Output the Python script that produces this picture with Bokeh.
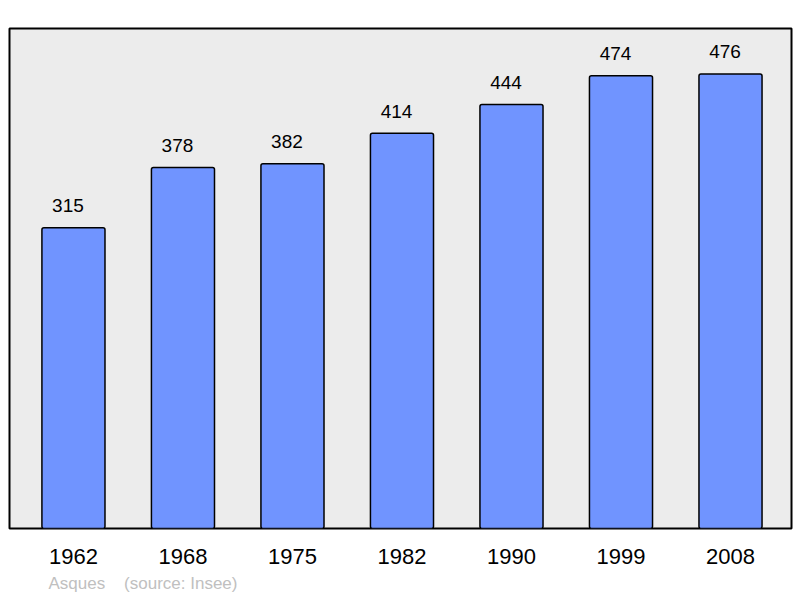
from bokeh.plotting import figure
from bokeh.models import ColumnDataSource, FixedTicker, Range1d, Title
from bokeh.core.properties import value
from bokeh.embed import file_html
from bokeh.resources import INLINE

years = ["1962", "1968", "1975", "1982", "1990", "1999", "2008"]
population = [315, 378, 382, 414, 444, 474, 476]
commune = "Asques"
source_note = "(source: Insee)"

xs = list(range(len(years)))
src = ColumnDataSource(dict(x=xs, pop=population, lbl=[str(v) for v in population]))

FONT = "Liberation Sans"

p = figure(frame_width=782, frame_height=500, output_backend="svg", toolbar_location=None,
           x_range=Range1d(-0.584, 6.557), y_range=Range1d(0, 523.6),
           min_border_left=9, min_border_right=9, min_border_top=28, min_border_bottom=0)

p.background_fill_color = "#ececec"
p.border_fill_color = "white"
p.outline_line_color = "black"
p.outline_line_width = 2
p.grid.visible = False
p.yaxis.visible = False

p.vbar(x="x", top="pop", bottom=0, width=0.576, source=src,
       fill_color="#7094ff", line_color="black", line_width=1.5, border_radius=2)

p.text(x="x", y="pop", text="lbl", source=src, x_offset=-5.5, y_offset=-22,
       text_align="center", text_baseline="alphabetic",
       text_font=value(FONT), text_font_size="19px", text_color="black")

ax = p.xaxis[0]
ax.ticker = FixedTicker(ticks=xs)
ax.major_label_overrides = {i: y for i, y in zip(xs, years)}
ax.axis_line_color = None
ax.major_tick_line_color = None
ax.minor_tick_line_color = None
ax.major_tick_out = 0
ax.major_tick_in = 0
ax.major_label_standoff = 20
ax.major_label_text_font = FONT
ax.major_label_text_font_size = "22px"
ax.major_label_text_color = "black"

p.add_layout(Title(text=commune + "\u00a0\u00a0\u00a0\u00a0" + source_note, align="left", offset=39,
                   text_font=FONT, text_font_size="17px", text_color="#c0c0c0",
                   text_font_style="normal", standoff=11), "below")

open("out.html", "w").write(file_html(p, INLINE))
